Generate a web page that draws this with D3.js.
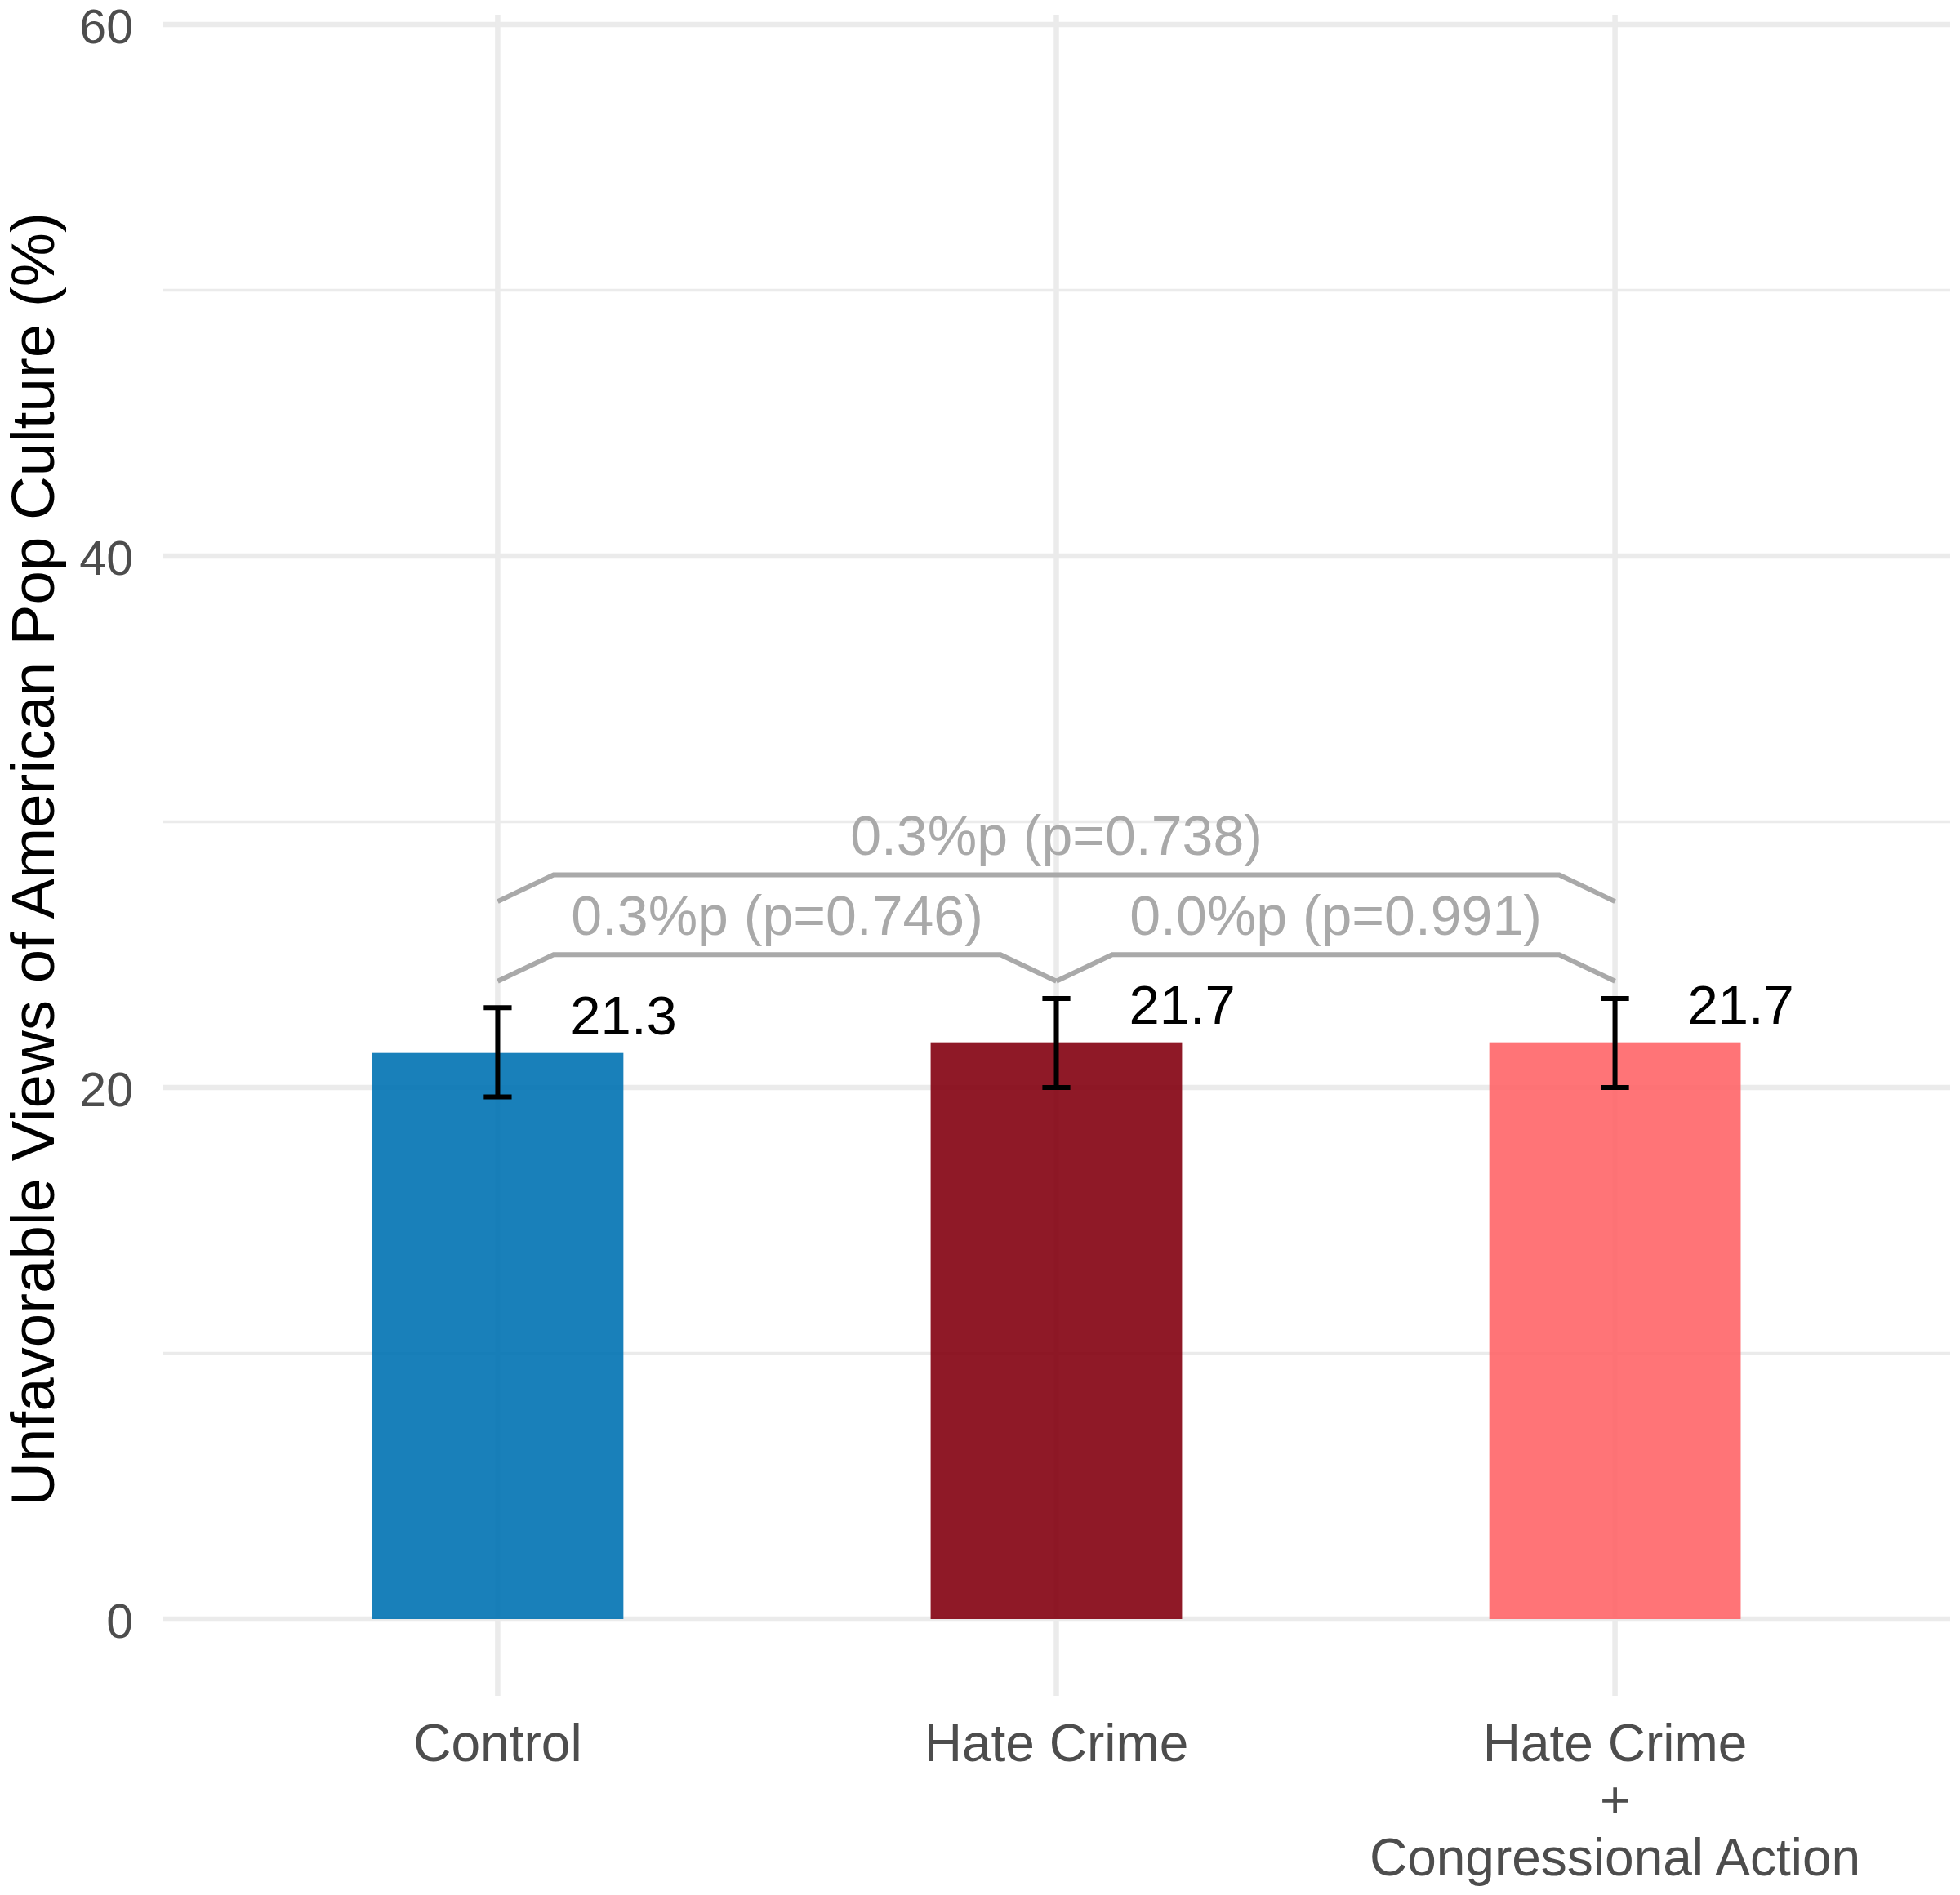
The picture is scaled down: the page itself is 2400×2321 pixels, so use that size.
<!DOCTYPE html>
<html lang="en">
<head>
    <meta charset="UTF-8">
    <title>Unfavorable Views of American Pop Culture</title>
    <script src="https://cdn.jsdelivr.net/npm/d3@7"></script>
    <style>
        body { margin: 0; background: #fff; }
        text { font-family: "Liberation Sans", Arial, Helvetica, sans-serif; }
    </style>
</head>
<body>
    <svg id="chart" width="2400" height="2321"></svg>
    <script>
        // data
        const categories = ['Control', 'Hate Crime', 'Hate Crime\n+\nCongressional Action']
        const means = [21.3, 21.7, 21.7]
        const ciLow = [19.65, 20.0, 20.0]
        const ciHigh = [23.0, 23.35, 23.35]
        const valueLabels = ['21.3', '21.7', '21.7']
        const barColors = ['#0072B2', '#83000F', '#FF6568']
        const majorTicks = [0, 20, 40, 60]
        const minorTicks = [10, 30, 50]
        // pairwise comparisons: index pairs, bracket foot / top heights, label
        const compFrom = [0, 1, 0]
        const compTo = [1, 2, 2]
        const compFoot = [24, 24, 27]
        const compTop = [25, 25, 28]
        const compLabels = ['0.3%p (p=0.746)', '0.0%p (p=0.991)', '0.3%p (p=0.738)']

        const svg = d3.select('#chart')
        const left = 199, right = 2388

        const x = d3.scalePoint()
            .domain(categories)
            .range([left, right])
            .padding(0.6)
        const step = x.step()

        const y = d3.scaleLinear()
            .domain([0, 60])
            .range([1983, 30])

        const grid = svg.append('g')
        // minor + major horizontal grid
        grid.selectAll('line.minor')
            .data(minorTicks)
            .join('line')
            .attr('x1', left).attr('x2', right)
            .attr('y1', d => y(d)).attr('y2', d => y(d))
            .attr('stroke', '#ebebeb')
            .attr('stroke-width', 3.5)
        grid.selectAll('line.major')
            .data(majorTicks)
            .join('line')
            .attr('x1', left).attr('x2', right)
            .attr('y1', d => y(d)).attr('y2', d => y(d))
            .attr('stroke', '#ebebeb')
            .attr('stroke-width', 6.5)
        grid.selectAll('line.vert')
            .data(categories)
            .join('line')
            .attr('x1', d => x(d)).attr('x2', d => x(d))
            .attr('y1', y(60.37)).attr('y2', y(-2.89))
            .attr('stroke', '#ebebeb')
            .attr('stroke-width', 6.5)

        // y tick labels
        svg.append('g')
            .selectAll('text')
            .data(majorTicks)
            .join('text')
            .attr('x', 163)
            .attr('y', d => y(d))
            .attr('dy', '0.39em')
            .attr('text-anchor', 'end')
            .attr('font-size', 59)
            .attr('fill', '#4d4d4d')
            .text(d => d)

        // x tick labels (multi-line)
        svg.append('g')
            .selectAll('text')
            .data(categories)
            .join('text')
            .attr('text-anchor', 'middle')
            .attr('font-size', 64)
            .attr('fill', '#4d4d4d')
            .selectAll('tspan')
            .data(d => d.split('\n').map(s => ({cat: d, s: s})))
            .join('tspan')
            .attr('x', d => x(d.cat))
            .attr('y', (d, i) => 2157 + i * 70)
            .text(d => d.s)

        // y axis title
        svg.append('text')
            .attr('transform', 'translate(66,' + ((y(60.37) + y(-2.89)) / 2 + 5) + ') rotate(-90)')
            .attr('text-anchor', 'middle')
            .attr('font-size', 74.5)
            .attr('fill', '#000')
            .text('Unfavorable Views of American Pop Culture (%)')

        // bars
        const barW = step * 0.45
        svg.append('g')
            .selectAll('rect')
            .data(categories)
            .join('rect')
            .attr('x', d => x(d) - barW / 2)
            .attr('width', barW)
            .attr('y', (d, i) => y(means[i]))
            .attr('height', (d, i) => y(0) - y(means[i]))
            .attr('fill', (d, i) => barColors[i])
            .attr('fill-opacity', 0.9)

        // error bars
        const capW = step * 0.05
        const eb = svg.append('g')
            .attr('stroke', '#000')
            .attr('stroke-width', 6)
            .selectAll('g')
            .data(categories)
            .join('g')
        eb.append('line')
            .attr('x1', d => x(d)).attr('x2', d => x(d))
            .attr('y1', (d, i) => y(ciLow[i])).attr('y2', (d, i) => y(ciHigh[i]))
        eb.append('line')
            .attr('x1', d => x(d) - capW / 2).attr('x2', d => x(d) + capW / 2)
            .attr('y1', (d, i) => y(ciLow[i])).attr('y2', (d, i) => y(ciLow[i]))
        eb.append('line')
            .attr('x1', d => x(d) - capW / 2).attr('x2', d => x(d) + capW / 2)
            .attr('y1', (d, i) => y(ciHigh[i])).attr('y2', (d, i) => y(ciHigh[i]))

        // value labels
        svg.append('g')
            .selectAll('text')
            .data(categories)
            .join('text')
            .attr('x', d => x(d) + step * 0.13)
            .attr('y', (d, i) => y(means[i] + 0.7))
            .attr('font-size', 67)
            .attr('fill', '#000')
            .text((d, i) => valueLabels[i])

        // comparison brackets
        const line = d3.line()
        const comps = compLabels.map((lab, i) => ({
            x0: x(categories[compFrom[i]]),
            x1: x(categories[compTo[i]]),
            foot: compFoot[i],
            top: compTop[i],
            label: lab
        }))
        const br = svg.append('g')
        br.selectAll('path')
            .data(comps)
            .join('path')
            .attr('d', d => line([
                [d.x0, y(d.foot)],
                [d.x0 + step * 0.1, y(d.top)],
                [d.x1 - step * 0.1, y(d.top)],
                [d.x1, y(d.foot)]
            ]))
            .attr('fill', 'none')
            .attr('stroke', '#a9a9a9')
            .attr('stroke-width', 6)
        br.selectAll('text')
            .data(comps)
            .join('text')
            .attr('x', d => (d.x0 + d.x1) / 2)
            .attr('y', d => y(d.top + 0.75))
            .attr('text-anchor', 'middle')
            .attr('font-size', 68)
            .attr('fill', '#a9a9a9')
            .text(d => d.label)
    </script>
</body>
</html>
